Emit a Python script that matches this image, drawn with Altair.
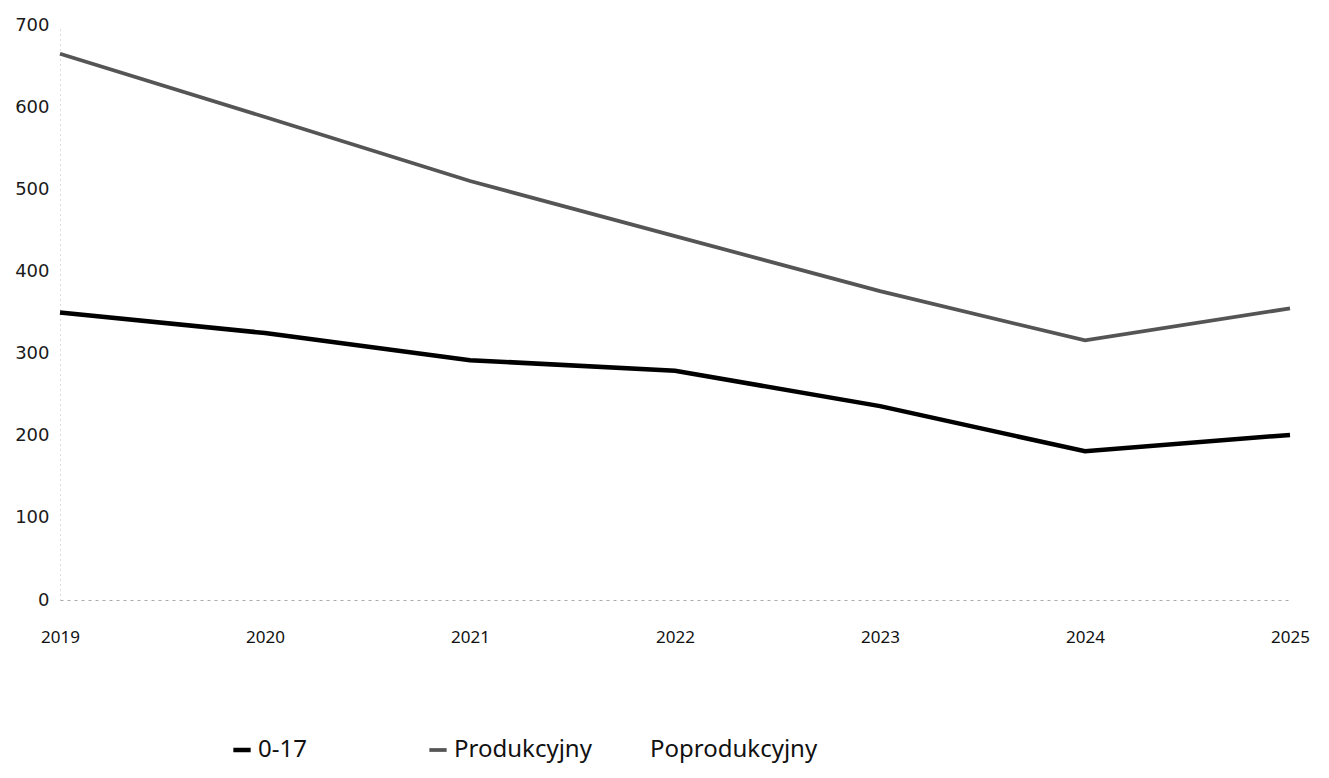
import altair as alt
import pandas as pd

years = ["2019", "2020", "2021", "2022", "2023", "2024", "2025"]
age_0_17 = [350, 325, 292, 279, 236, 181, 201]
produkcyjny = [665, 588, 510, 443, 376, 316, 355]
series_names = ["0-17", "Produkcyjny", "Poprodukcyjny"]
series_colors = ["#000000", "#555555", "#ffffff"]
series_widths = [4.5, 3, 3]

rows = []
for y, v in zip(years, age_0_17):
    rows.append({"rok": y, "wartosc": v, "grupa": "0-17"})
for y, v in zip(years, produkcyjny):
    rows.append({"rok": y, "wartosc": v, "grupa": "Produkcyjny"})
df = pd.DataFrame(rows)

chart = alt.Chart(df).mark_line().encode(
    x=alt.X("rok:O", scale=alt.Scale(type="point", padding=0),
            axis=alt.Axis(title=None, labelAngle=0, ticks=False, grid=False,
                          domainColor="#aaaaaa", domainDash=[3, 4], domainWidth=1,
                          labelFont="Noto Sans", labelFontSize=17, labelColor="#111111",
                          labelPadding=29)),
    y=alt.Y("wartosc:Q", scale=alt.Scale(domain=[0, 700], nice=False),
            axis=alt.Axis(title=None, values=[0, 100, 200, 300, 400, 500, 600, 700],
                          ticks=False, grid=False, domainColor="#bbbbbb", domainDash=[1, 4],
                          labelFont="DejaVu Sans", labelFontSize=18, labelColor="#1a1a1a",
                          labelPadding=11)),
    color=alt.Color("grupa:N",
                    scale=alt.Scale(domain=series_names, range=series_colors),
                    legend=alt.Legend(title=None, orient="none", legendX=170, legendY=713,
                                      direction="horizontal", columns=3, gridAlign="all",
                                      columnPadding=-10, symbolType="stroke",
                                      symbolStrokeWidth=4, symbolSize=300,
                                      labelFont="Noto Sans", labelFontSize=24,
                                      labelColor="#111111", labelLimit=300)),
    strokeWidth=alt.StrokeWidth("grupa:N",
                                scale=alt.Scale(domain=series_names, range=series_widths),
                                legend=None),
).properties(
    width=1230, height=575,
    autosize=alt.AutoSizeParams(type="none"),
    padding={"left": 52, "top": 17, "right": 30, "bottom": 170},
).configure(background="white").configure_view(strokeWidth=0)

chart.save("out.html", embed_options={"renderer": "svg", "actions": False})
